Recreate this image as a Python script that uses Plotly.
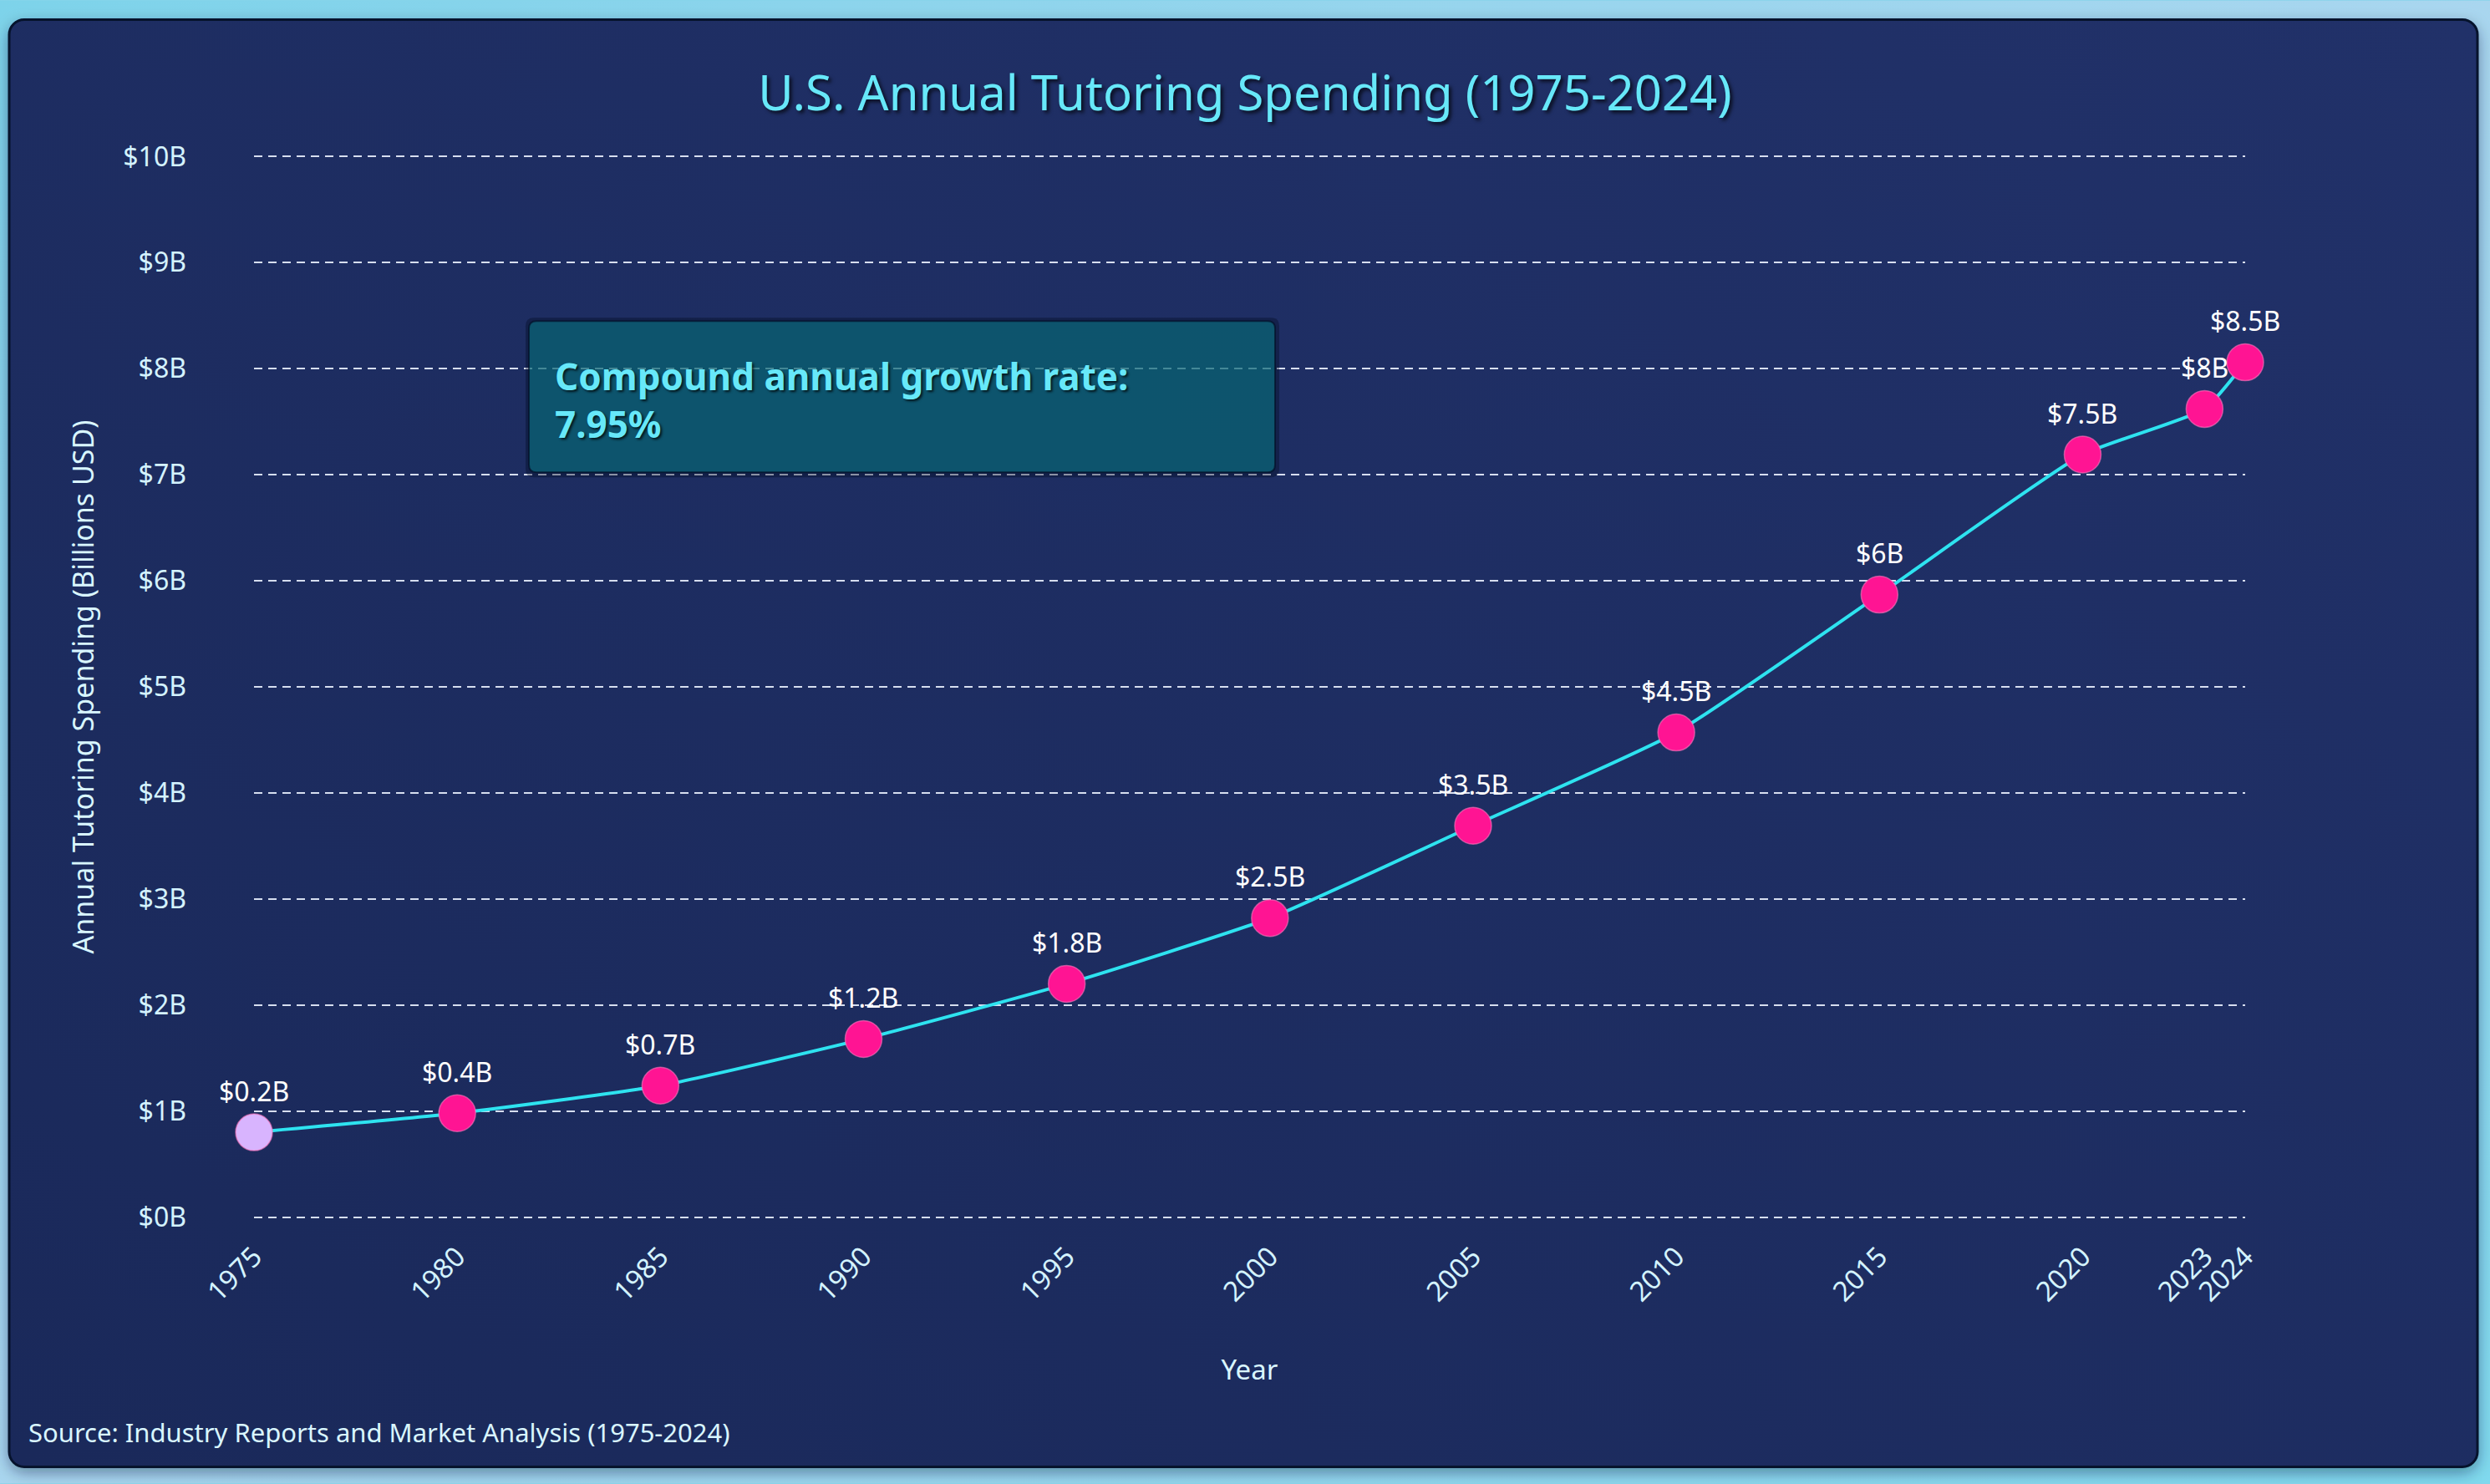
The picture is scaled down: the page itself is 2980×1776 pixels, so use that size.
import base64
import plotly.graph_objects as go

# ---------------- data ----------------
years = [1975, 1980, 1985, 1990, 1995, 2000, 2005, 2010, 2015, 2020, 2023, 2024]
plotted_spending = [0.80, 0.98, 1.24, 1.68, 2.20, 2.82, 3.69, 4.57, 5.87, 7.19, 7.62, 8.06]
point_labels = ["$0.2B", "$0.4B", "$0.7B", "$1.2B", "$1.8B", "$2.5B",
                "$3.5B", "$4.5B", "$6B", "$7.5B", "$8B", "$8.5B"]
x_tick_values = [1975, 1980, 1985, 1990, 1995, 2000, 2005, 2010, 2015, 2020, 2023, 2024]
y_tick_values = [0, 1, 2, 3, 4, 5, 6, 7, 8, 9, 10]
y_tick_labels = ["$0B", "$1B", "$2B", "$3B", "$4B", "$5B", "$6B", "$7B", "$8B", "$9B", "$10B"]
cagr_text = "Compound annual growth rate:<br>7.95%"
title_text = "U.S. Annual Tutoring Spending (1975-2024)"
source_text = "Source: Industry Reports and Market Analysis (1975-2024)"

# ---------------- geometry ----------------
W, H = 2980, 1776
X0, X1 = 1975, 2024
Y0, Y1 = -0.05, 10.05          # small pad so the $0B / $10B grid lines are drawn
PX_1975, PX_2024 = 304, 2687   # pixel x of first/last year
PY_0, PY_10 = 1457, 187        # pixel y of $0B / $10B
ppu = (PY_0 - PY_10) / 10.0
L, R = PX_1975, PX_2024
T = PY_10 - (Y1 - 10) * ppu
B = PY_0 + (0 - Y0) * ppu
FONT = "Noto Sans, Open Sans, sans-serif"


def px_x(px):
    return (px - L) / (R - L)


def px_y(py):
    return (B - py) / (B - T)


def rounded_path(x0, y0, x1, y1, r):
    def P(a, b):
        return f"{px_x(a):.6f},{px_y(b):.6f}"
    parts = [
        f"M {P(x0 + r, y0)}", f"L {P(x1 - r, y0)}", f"Q {P(x1, y0)} {P(x1, y0 + r)}",
        f"L {P(x1, y1 - r)}", f"Q {P(x1, y1)} {P(x1 - r, y1)}", f"L {P(x0 + r, y1)}",
        f"Q {P(x0, y1)} {P(x0, y1 - r)}", f"L {P(x0, y0 + r)}", f"Q {P(x0, y0)} {P(x0 + r, y0)}",
        "Z",
    ]
    return " ".join(parts)


# background (page + card) as an SVG image
svg = f"""<svg xmlns="http://www.w3.org/2000/svg" width="{W}" height="{H}" viewBox="0 0 {W} {H}">
<defs>
<linearGradient id="bg" x1="0" y1="0" x2="1" y2="1">
<stop offset="0" stop-color="#7dd3ea"/>
<stop offset="0.5" stop-color="#a9d6ef"/>
<stop offset="1" stop-color="#7fd9ee"/>
</linearGradient>
<linearGradient id="card" x1="0" y1="1" x2="1" y2="0">
<stop offset="0" stop-color="#1a295a"/>
<stop offset="1" stop-color="#213169"/>
</linearGradient>
<filter id="sh" x="-5%" y="-5%" width="110%" height="110%"><feGaussianBlur stdDeviation="9"/></filter>
</defs>
<rect width="{W}" height="{H}" fill="url(#bg)"/>
<rect x="11" y="29" width="2954" height="1733" rx="18" fill="rgba(0,25,55,0.45)" filter="url(#sh)"/>
<rect x="11" y="23" width="2954" height="1733" rx="18" fill="url(#card)" stroke="#06132c" stroke-width="3"/>
</svg>"""
svg_uri = "data:image/svg+xml;base64," + base64.b64encode(svg.encode()).decode()

marker_colors = ["#d8b4fe"] + ["#ff1493"] * (len(years) - 1)

fig = go.Figure()
fig.add_trace(go.Scatter(
    x=years,
    y=plotted_spending,
    mode="lines+markers",
    line=dict(color="#2ee3f0", width=4, shape="spline", smoothing=0.5),
    marker=dict(size=44, color=marker_colors, line=dict(color="rgba(255,120,190,0.6)", width=1.5)),
    cliponaxis=False,
    showlegend=False,
    hoverinfo="skip",
))

annotations = []
for yr, val, lab in zip(years, plotted_spending, point_labels):
    annotations.append(dict(
        x=yr, y=val, xref="x", yref="y", text=lab, showarrow=False,
        yshift=50, font=dict(family=FONT, size=32, color="#ffffff"),
        xanchor="center", yanchor="middle",
    ))

# CAGR box text
annotations.append(dict(
    x=px_x(662), y=px_y(478), xref="paper", yref="paper",
    text=f"<b>{cagr_text}</b>", showarrow=False, align="left",
    xanchor="left", yanchor="middle",
    font=dict(family=FONT, size=44, color="#67e8f9", shadow="2px 2px 3px rgba(0,0,0,0.75)"),
))
# source
annotations.append(dict(
    x=px_x(32), y=px_y(1714), xref="paper", yref="paper",
    text=source_text, showarrow=False, xanchor="left", yanchor="middle",
    font=dict(family=FONT, size=31, color="#d9f6ff"),
))

shapes = [
    dict(type="path", xref="paper", yref="paper",
         path=rounded_path(629, 380, 1531, 571, 10),
         fillcolor="rgba(0,10,30,0.35)", line=dict(width=0), layer="above"),
    dict(type="path", xref="paper", yref="paper",
         path=rounded_path(633, 384, 1526, 565, 9),
         fillcolor="rgba(10,128,138,0.55)", line=dict(color="rgba(3,15,40,0.7)", width=2),
         layer="above"),
]

fig.update_layout(
    width=W, height=H,
    margin=dict(l=L, r=W - R, t=T, b=H - B, autoexpand=False),
    paper_bgcolor="#86d4ea",
    plot_bgcolor="rgba(0,0,0,0)",
    images=[dict(source=svg_uri, xref="paper", yref="paper",
                 x=px_x(0), y=px_y(0), sizex=W / (R - L), sizey=H / (B - T),
                 xanchor="left", yanchor="top", sizing="stretch", layer="below")],
    title=dict(text=title_text, x=0.5, xref="container", xanchor="center",
               y=1 - 112 / H, yref="container", yanchor="middle",
               font=dict(family=FONT, size=58, color="#67e8f9",
                         shadow="3px 3px 4px rgba(0,0,0,0.7)")),
    xaxis=dict(
        range=[X0, X1], tickmode="array", tickvals=x_tick_values,
        ticktext=[str(v) for v in x_tick_values], tickangle=-45,
        showgrid=False, zeroline=False, showline=False,
        tickfont=dict(family=FONT, size=33, color="#d4f3ff"),
        ticklabelstandoff=14,
        title=dict(text="Year", font=dict(family=FONT, size=33, color="#d9f6ff"), standoff=62),
    ),
    yaxis=dict(
        range=[Y0, Y1], tickmode="array", tickvals=y_tick_values, ticktext=y_tick_labels,
        showgrid=True, gridcolor="rgba(235,242,255,0.9)", gridwidth=2, griddash="10px,7px",
        zeroline=False, showline=False,
        tickfont=dict(family=FONT, size=32, color="#d4f3ff"),
        ticklabelstandoff=80,
        title=dict(text="Annual Tutoring Spending (Billions USD)",
                   font=dict(family=FONT, size=34, color="#d9f6ff"), standoff=24),
    ),
    annotations=annotations,
    shapes=shapes,
)

fig.write_html(
    "out.html",
    config={"displayModeBar": False},
    post_script="document.body.style.margin='0';document.body.style.padding='0';",
)
